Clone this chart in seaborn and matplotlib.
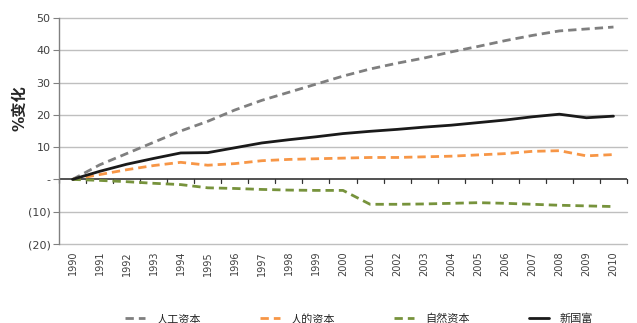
import matplotlib
matplotlib.use("Agg")
import matplotlib.pyplot as plt
import seaborn as sns
import pandas as pd
import numpy as np
from matplotlib.lines import Line2D

years = list(range(1990, 2011))
produced = [0, 4.5, 8, 11.5, 15, 18, 21.5, 24.5, 27, 29.5, 32, 34.2, 36, 37.6, 39.5, 41.2, 43, 44.6, 46, 46.6, 47.2]
human = [0, 1.5, 3, 4.3, 5.3, 4.4, 4.9, 5.8, 6.2, 6.4, 6.6, 6.8, 6.8, 7.0, 7.2, 7.6, 8.0, 8.7, 8.9, 7.3, 7.7]
natural = [0, -0.3, -0.7, -1.2, -1.6, -2.6, -2.8, -3.1, -3.3, -3.4, -3.4, -7.7, -7.7, -7.6, -7.4, -7.2, -7.4, -7.7, -8.0, -8.2, -8.4]
wealth = [0, 2.5, 4.7, 6.5, 8.2, 8.3, 9.8, 11.3, 12.3, 13.2, 14.2, 14.9, 15.5, 16.2, 16.8, 17.6, 18.4, 19.4, 20.2, 19.1, 19.6]

names = ["人工资本", "人的资本", "自然资本", "新国富"]
colors = ["#7f7f7f", "#f79646", "#77933c", "#1a1a1a"]

sns.set_theme(style="white")
plt.rcParams["font.family"] = ["DejaVu Sans", "Noto Sans CJK SC"]

fig = plt.figure(figsize=(6.37, 3.23), dpi=100)
ax = fig.add_axes([59/637, 1-244/323, 568/637, 226/323])

df = pd.DataFrame({"year": years * 4,
                   "value": produced + human + natural + wealth,
                   "series": sum([[n] * len(years) for n in names], [])})

dashes = {names[0]: (3, 1.8), names[1]: (3, 1.8), names[2]: (3, 1.8), names[3]: ""}
for y in range(-20, 51, 10):
    if y != 0:
        ax.axhline(y, color="#bfbfbf", lw=1, zorder=0, clip_on=False)
ax.axhline(0, color="#333333", lw=1.2, zorder=1)

sns.lineplot(data=df, x="year", y="value", hue="series", style="series",
             palette=dict(zip(names, colors)), dashes=dashes, linewidth=2,
             ax=ax, legend=False, zorder=3)

# category boundary ticks on the zero line
for b in np.arange(1989.5, 2011, 1):
    ax.plot([b, b], [0, -1.0], color="#333333", lw=0.9, zorder=2, clip_on=False)

ax.set_xlim(1989.5, 2010.5)
ax.set_ylim(-20, 50)
ax.set_xticks(years)
ax.set_xticklabels([str(y) for y in years], rotation=90, fontsize=7, color="#404040")
ax.set_yticks(range(-20, 51, 10))
ax.set_yticklabels(["(20)", "(10)", "-", "10", "20", "30", "40", "50"], fontsize=8, color="#404040")
ax.tick_params(axis="y", length=4, width=0.8, color="#808080", left=True, pad=2)
ax.tick_params(axis="x", length=0, pad=5)
ax.set_xlabel("")
ax.set_ylabel("%变化", fontsize=11, fontweight="bold")
ax.yaxis.set_label_coords(-0.056, 0.60)
for s in ["top", "right", "bottom"]:
    ax.spines[s].set_visible(False)
ax.spines["left"].set_color("#808080")
ax.spines["left"].set_linewidth(1.0)

handles = [Line2D([], [], color=c, lw=2, linestyle=(0, (3, 1.8)) if i < 3 else "-")
           for i, c in enumerate(colors)]
fig.legend(handles, names, loc="center left", bbox_to_anchor=(125/637, 4/323), ncol=4,
           frameon=False, fontsize=8, handlelength=1.8, columnspacing=5.3,
           handletextpad=1.0, borderpad=0, borderaxespad=0)

fig.savefig("out.png", dpi=100)
